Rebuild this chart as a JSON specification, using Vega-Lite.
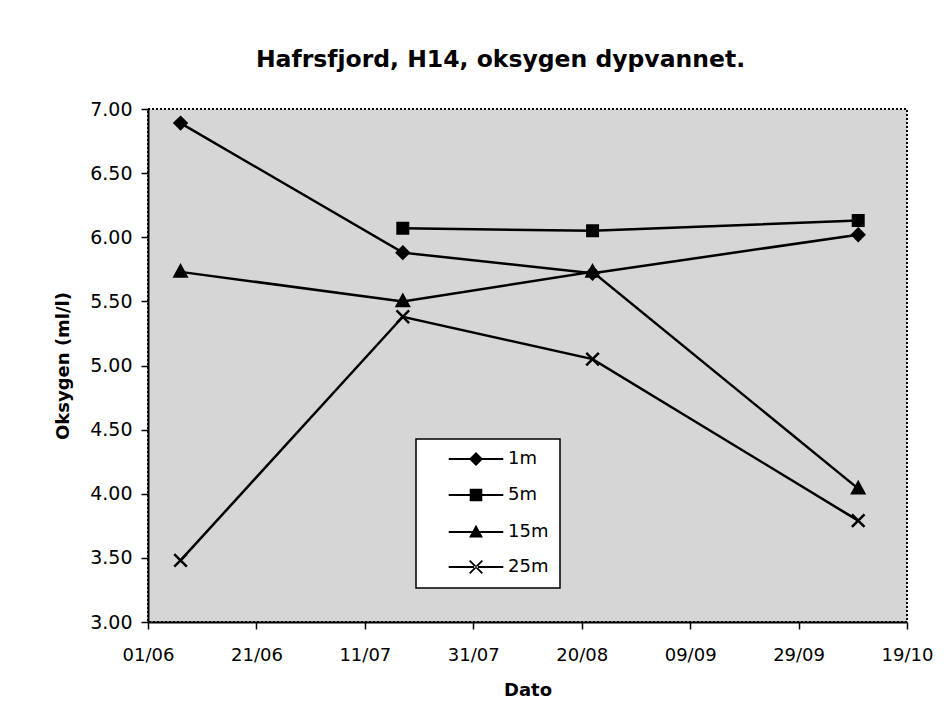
{
  "$schema": "https://vega.github.io/schema/vega-lite/v6.json",
  "width": 759,
  "height": 513,
  "autosize": "none",
  "padding": {"left": 148, "top": 109, "right": 40, "bottom": 95},
  "background": "white",
  "config": {
    "font": "DejaVu Sans",
    "view": {"fill": "#d6d6d6", "stroke": "black", "strokeDash": [2, 2], "strokeWidth": 2},
    "legend": {"strokeWidth": 1.5}
  },
  "title": {
    "text": "Hafrsfjord, H14, oksygen dypvannet.",
    "font": "DejaVu Sans",
    "fontSize": 23.5,
    "fontWeight": "bold",
    "color": "black",
    "anchor": "middle",
    "offset": 29,
    "dx": -27
  },
  "data": {
    "values": [
      {"series": "1m", "date": "1995-06-07", "oxygen": 6.89},
      {"series": "1m", "date": "1995-07-18", "oxygen": 5.88},
      {"series": "1m", "date": "1995-08-22", "oxygen": 5.72},
      {"series": "1m", "date": "1995-10-10", "oxygen": 6.02},
      {"series": "5m", "date": "1995-07-18", "oxygen": 6.07},
      {"series": "5m", "date": "1995-08-22", "oxygen": 6.05},
      {"series": "5m", "date": "1995-10-10", "oxygen": 6.13},
      {"series": "15m", "date": "1995-06-07", "oxygen": 5.73},
      {"series": "15m", "date": "1995-07-18", "oxygen": 5.5},
      {"series": "15m", "date": "1995-08-22", "oxygen": 5.73},
      {"series": "15m", "date": "1995-10-10", "oxygen": 4.04},
      {"series": "25m", "date": "1995-06-07", "oxygen": 3.48},
      {"series": "25m", "date": "1995-07-18", "oxygen": 5.38},
      {"series": "25m", "date": "1995-08-22", "oxygen": 5.05},
      {"series": "25m", "date": "1995-10-10", "oxygen": 3.79}
    ]
  },
  "encoding": {
    "x": {
      "field": "date",
      "type": "temporal",
      "title": "Dato",
      "scale": {
        "type": "utc",
        "domain": [
          {"year": 1995, "month": 6, "date": 1, "utc": true},
          {"year": 1995, "month": 10, "date": 19, "utc": true}
        ]
      },
      "axis": {
        "values": [
          {"year": 1995, "month": 6, "date": 1, "utc": true},
          {"year": 1995, "month": 6, "date": 21, "utc": true},
          {"year": 1995, "month": 7, "date": 11, "utc": true},
          {"year": 1995, "month": 7, "date": 31, "utc": true},
          {"year": 1995, "month": 8, "date": 20, "utc": true},
          {"year": 1995, "month": 9, "date": 9, "utc": true},
          {"year": 1995, "month": 9, "date": 29, "utc": true},
          {"year": 1995, "month": 10, "date": 19, "utc": true}
        ],
        "labelExpr": "utcFormat(datum.value, '%d/%m')",
        "grid": false,
        "domainColor": "black",
        "domainWidth": 2,
        "tickColor": "black",
        "tickWidth": 1.5,
        "tickSize": 7,
        "labelFontSize": 18,
        "labelColor": "black",
        "labelPadding": 17,
        "labelFlush": false,
        "labelOverlap": false,
        "titleFontSize": 18,
        "titleFontWeight": "bold",
        "titleColor": "black",
        "titleY": 68,
        "titleBaseline": "middle"
      }
    },
    "y": {
      "field": "oxygen",
      "type": "quantitative",
      "title": "Oksygen (ml/l)",
      "scale": {"domain": [3, 7], "nice": false, "zero": false},
      "axis": {
        "values": [3, 3.5, 4, 4.5, 5, 5.5, 6, 6.5, 7],
        "format": ".2f",
        "grid": false,
        "domainColor": "black",
        "domainWidth": 2,
        "tickColor": "black",
        "tickWidth": 1.5,
        "tickSize": 7,
        "labelFontSize": 19,
        "labelColor": "black",
        "labelPadding": 9,
        "labelFlush": false,
        "titleFontSize": 18,
        "titleFontWeight": "bold",
        "titleColor": "black",
        "titleX": -85,
        "titleBaseline": "middle"
      }
    }
  },
  "layer": [
    {
      "mark": {"type": "line", "color": "black", "strokeWidth": 2.5},
      "encoding": {"detail": {"field": "series"}}
    },
    {
      "mark": {"type": "point", "filled": true, "fill": "black", "stroke": "black", "strokeWidth": 2.5, "opacity": 1, "size": 196},
      "encoding": {
        "shape": {
          "field": "series",
          "type": "nominal",
          "scale": {
            "domain": ["1m", "5m", "15m", "25m"],
            "range": [
              "M0,-0.85L0.85,0L0,0.85L-0.85,0Z",
              "M-0.75,-0.75H0.75V0.75H-0.75Z",
              "M0,-0.9L0.85,0.65H-0.85Z",
              "M-0.9,-0.9L0.9,0.9M-0.9,0.9L0.9,-0.9"
            ]
          },
          "legend": null
        }
      }
    },
    {
      "mark": {"type": "point", "filled": true, "color": "black", "opacity": 0, "size": 196},
      "encoding": {
        "shape": {
          "field": "series",
          "type": "nominal",
          "scale": {
            "domain": ["1m", "5m", "15m", "25m"],
            "range": [
              "M-3.9,-0.15H3.9V0.15H-3.9ZM0,-1L1,0L0,1L-1,0Z",
              "M-3.9,-0.15H3.9V0.15H-3.9ZM-0.9,-0.9H0.9V0.9H-0.9Z",
              "M-3.9,-0.15H3.9V0.15H-3.9ZM0,-1.05L1,0.8H-1Z",
              "M-3.9,-0.15H3.9V0.15H-3.9ZM-0.992,-0.808L0.808,0.992L0.992,0.808L-0.808,-0.992ZM-0.808,0.992L0.992,-0.808L0.808,-0.992L-0.992,0.808Z"
            ]
          },
          "legend": {
            "title": null,
            "orient": "none",
            "legendX": 268,
            "legendY": 330,
            "direction": "vertical",
            "padding": 11,
            "fillColor": "white",
            "strokeColor": "black",
            "symbolSize": 196,
            "symbolOffset": 40,
            "labelOffset": 23,
            "labelFontSize": 18,
            "labelColor": "black",
            "labelFont": "DejaVu Sans",
            "rowPadding": 16,
            "symbolOpacity": 1,
            "encode": {
              "symbols": {
                "fill": {"value": "black"},
                "opacity": {"value": 1},
                "fillOpacity": {"value": 1}
              }
            }
          }
        }
      }
    }
  ],
  "resolve": {"scale": {"shape": "independent"}}
}
